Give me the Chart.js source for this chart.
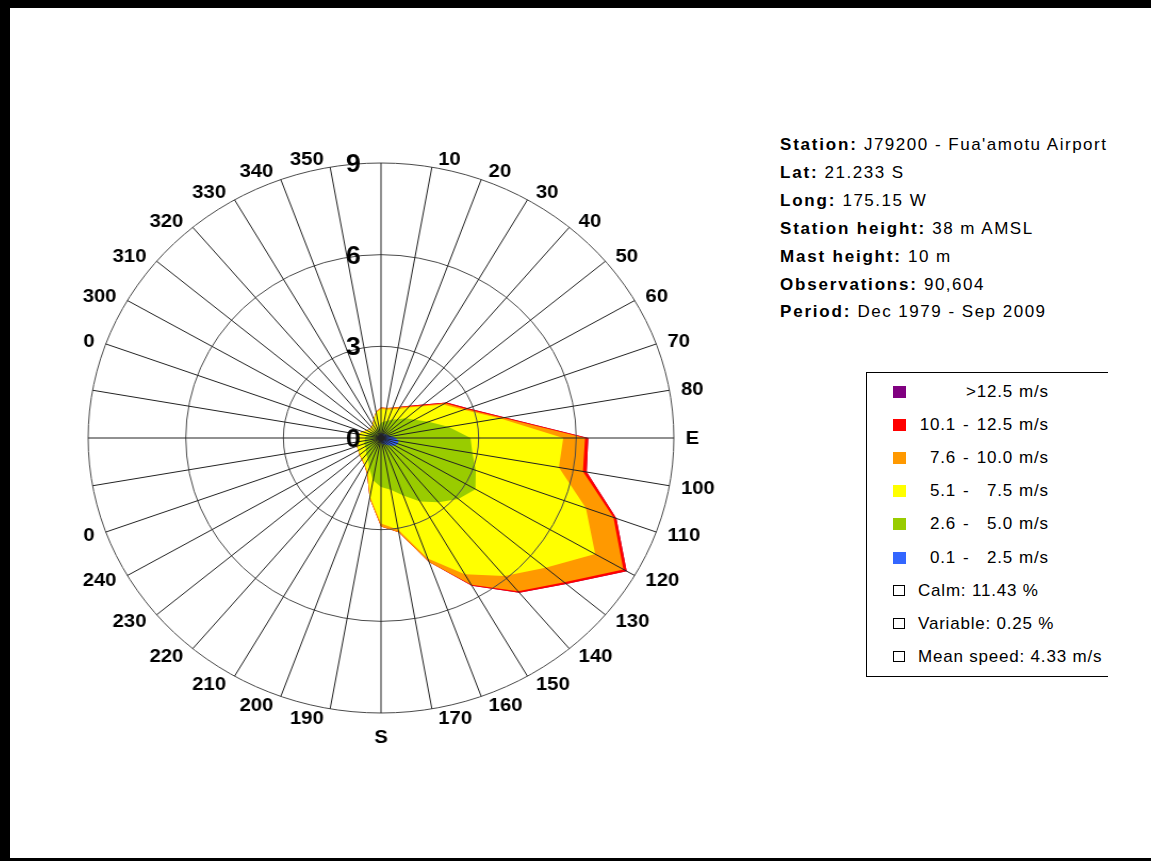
<!DOCTYPE html>
<html>
<head>
<meta charset="utf-8">
<script src="https://cdn.jsdelivr.net/npm/chart.js@4.4.0/dist/chart.umd.min.js"></script>
<style>
  html, body { margin: 0; padding: 0; background: #fff; }
  body { width: 1151px; height: 861px; position: relative; overflow: hidden;
         font-family: Arial, "Liberation Sans", sans-serif; color: #000; }
  .frame { position: absolute; left: 0; top: 0; width: 1151px; height: 861px; box-sizing: border-box;
           border-top: 8px solid #000; border-left: 10px solid #000; border-bottom: 3px solid #000; }
  #wrap { position: absolute; left: 61px; top: 118px; width: 640px; height: 640px;
          transform: scaleX(1.065); transform-origin: 320px 320px; }
  .info { position: absolute; left: 780px; top: 131px; font-size: 17px; line-height: 27.9px;
          letter-spacing: 1.5px; white-space: nowrap; }
  .info b { letter-spacing: 1.8px; }
  .legend { position: absolute; left: 866px; top: 372px; width: 241px; height: 303px;
            border: 1px solid #000; border-right: none; overflow: hidden; font-size: 17px; letter-spacing: 0.8px; }
  .row { position: absolute; left: 0; width: 241px; height: 20px; line-height: 20px; white-space: nowrap; }
  .sw { position: absolute; left: 26px; top: 4px; width: 13px; height: 12px; }
  .box { position: absolute; left: 26px; top: 4px; width: 10px; height: 9px; border: 1.5px solid #000; }
  .lo { position: absolute; right: 152px; }
  .dash { position: absolute; left: 96px; }
  .hi { position: absolute; right: 95px; }
  .unit { position: absolute; left: 152px; }
  .txt { position: absolute; left: 51px; }
</style>
</head>
<body>
<div class="frame"></div>
<div id="wrap"><canvas id="rose"></canvas></div>
<div class="info" id="info"></div>
<div class="legend" id="legend"></div>
<script>
// direction labels, every 10 degrees clockwise from north
const dirLabels = ['', '10', '20', '30', '40', '50', '60', '70', '80', 'E',
  '100', '110', '120', '130', '140', '150', '160', '170', 'S',
  '190', '200', '210', '220', '230', '240', '0', '', '', '', '0',
  '300', '310', '320', '330', '340', '350'];

// frequency (%) per direction for each speed class
const speed0125 = [0.15, 0.15, 0.15, 0.15, 0.15, 0.2, 0.2, 0.25, 0.35, 0.45, 0.55, 0.55, 0.5, 0.4, 0.3, 0.25, 0.2, 0.2,
  0.15, 0.1, 0.1, 0.1, 0.1, 0.1, 0.1, 0.1, 0.1, 0.1, 0.1, 0.1, 0.1, 0.1, 0.1, 0.1, 0.1, 0.15];
const speed2650 = [0.35, 0.4, 0.45, 0.55, 0.65, 0.8, 1.0, 1.3, 1.75, 2.3, 2.3, 2.55, 2.85, 2.7, 2.45, 2.15, 1.8, 1.52,
  1.45, 1.3, 0.95, 0.7, 0.6, 0.5, 0.45, 0.45, 0.4, 0.4, 0.35, 0.3, 0.25, 0.2, 0.2, 0.2, 0.25, 0.25];
const speed5175 = [0.45, 0.4, 0.4, 0.4, 0.5, 0.6, 1.0, 1.15, 1.6, 2.85, 2.7, 3.6, 4.25, 3.5, 3.15, 2.75, 2.2, 1.33,
  1.2, 0.55, 0.15, 0.2, 0.2, 0.25, 0.25, 0.23, 0.25, 0.25, 0.25, 0.2, 0.15, 0.15, 0.15, 0.2, 0.3, 0.45];
const speed76100 = [0.05, 0.05, 0.05, 0.07, 0.05, 0.06, 0.08, 0.08, 0.1, 0.67, 0.75, 0.9, 1.0, 0.75, 0.65, 0.4, 0.12, 0.08,
  0.1, 0.05, 0.05, 0.02, 0.02, 0.01, 0.01, 0.01, 0.01, 0.01, 0.01, 0.01, 0.01, 0.01, 0.01, 0.01, 0.01, 0.02];
const speed101125 = [0, 0, 0, 0.01, 0.03, 0.04, 0.05, 0.06, 0.08, 0.1, 0.12, 0.1, 0.12, 0.08, 0.06, 0.03, 0, 0,
  0, 0, 0, 0, 0, 0, 0, 0, 0, 0, 0, 0, 0, 0, 0, 0, 0, 0];
const speedOver125 = [0, 0, 0, 0, 0, 0, 0, 0, 0, 0, 0, 0, 0, 0, 0, 0, 0, 0,
  0, 0, 0, 0, 0, 0, 0, 0, 0, 0, 0, 0, 0, 0, 0, 0, 0, 0];

const classLow = ['0.1', '2.6', '5.1', '7.6', '10.1', ''];
const classHigh = ['2.5', '5.0', '7.5', '10.0', '12.5', '>12.5'];
const classColors = ['#3366ff', '#99cc00', '#ffff00', '#ff9900', '#ff0000', '#800080'];
const tickValues = [0, 3, 6, 9];

const stationInfo = [
  ['Station:', "J79200 - Fua'amotu Airport"],
  ['Lat:', '21.233 S'],
  ['Long:', '175.15 W'],
  ['Station height:', '38 m AMSL'],
  ['Mast height:', '10 m'],
  ['Observations:', '90,604'],
  ['Period:', 'Dec 1979 - Sep 2009']
];
const summary = ['Calm: 11.43 %', 'Variable: 0.25 %', 'Mean speed: 4.33 m/s'];

// stack the classes so each polygon is drawn out to its cumulative total
const classes = [speed0125, speed2650, speed5175, speed76100, speed101125, speedOver125];
let running = new Array(dirLabels.length).fill(0);
const datasets = classes.map(function (vals, k) {
  running = running.map(function (v, i) { return v + vals[i]; });
  return {
    label: classLow[k] ? classLow[k] + ' - ' + classHigh[k] + ' m/s' : classHigh[k] + ' m/s',
    data: running.slice(),
    backgroundColor: classColors[k],
    borderWidth: 0,
    fill: 'origin'
  };
});

// ring values beside the north line, direction labels just outside the rim
const roseText = {
  id: 'roseText',
  afterDraw(chart) {
    const s = chart.scales.r;
    const c = chart.ctx;
    c.save();
    c.fillStyle = '#000';
    c.font = 'bold 25px Arial, "Liberation Sans", sans-serif';
    c.textAlign = 'right';
    c.textBaseline = 'middle';
    tickValues.forEach(function (v) {
      c.fillText(String(v), s.xCenter - 19, s.yCenter - s.getDistanceFromCenterForValue(v) + 2);
    });
    c.font = 'bold 19px Arial, "Liberation Sans", sans-serif';
    chart.data.labels.forEach(function (lab, i) {
      if (!lab) return;
      const p = s.getPointPosition(i, s.drawingArea);
      const a = s.getIndexAngle(i);
      const sx = Math.sin(a), cy = Math.cos(a);
      if (Math.abs(sx) < 0.01) {
        c.textAlign = 'center';
        c.fillText(lab, p.x, p.y - cy * 25);
      } else {
        c.textAlign = sx > 0 ? 'left' : 'right';
        c.fillText(lab, p.x + Math.sign(sx) * (5 + 6 * Math.abs(sx)), p.y - cy * 9 + 1);
      }
    });
    c.restore();
  }
};

new Chart(document.getElementById('rose'), {
  type: 'radar',
  data: { labels: dirLabels, datasets: datasets },
  options: {
    responsive: true,
    maintainAspectRatio: false,
    animation: false,
    layout: { padding: 45 },
    plugins: { legend: { display: false }, tooltip: { enabled: false } },
    elements: { line: { tension: 0 }, point: { radius: 0 } },
    scales: {
      r: {
        min: 0,
        max: 9,
        ticks: { stepSize: 3, display: false },
        grid: { circular: true, color: '#4a4a4a', lineWidth: 1, z: 1 },
        angleLines: { color: '#222', lineWidth: 1 },
        pointLabels: { display: false }
      }
    }
  },
  plugins: [roseText]
});

// station text
const info = document.getElementById('info');
stationInfo.forEach(function (p) {
  const d = document.createElement('div');
  d.innerHTML = '<b></b> <span></span>';
  d.firstChild.textContent = p[0];
  d.lastChild.textContent = p[1];
  info.appendChild(d);
});

// legend, top row is the fastest class
const legend = document.getElementById('legend');
for (let k = classColors.length - 1, row = 0; k >= 0; k--, row++) {
  const r = document.createElement('div');
  r.className = 'row';
  r.style.top = (9 + row * 33.1) + 'px';
  const sw = document.createElement('div');
  sw.className = 'sw';
  sw.style.background = classColors[k];
  r.appendChild(sw);
  if (classLow[k]) {
    r.insertAdjacentHTML('beforeend', '<span class="lo"></span><span class="dash">-</span>');
    r.querySelector('.lo').textContent = classLow[k];
  }
  const hi = document.createElement('span');
  hi.className = 'hi';
  hi.textContent = classHigh[k];
  r.appendChild(hi);
  const u = document.createElement('span');
  u.className = 'unit';
  u.textContent = 'm/s';
  r.appendChild(u);
  legend.appendChild(r);
}
summary.forEach(function (t, j) {
  const r = document.createElement('div');
  r.className = 'row';
  r.style.top = (9 + (6 + j) * 33.1) + 'px';
  r.innerHTML = '<div class="box"></div><span class="txt"></span>';
  r.querySelector('.txt').textContent = t;
  legend.appendChild(r);
});
</script>
</body>
</html>
